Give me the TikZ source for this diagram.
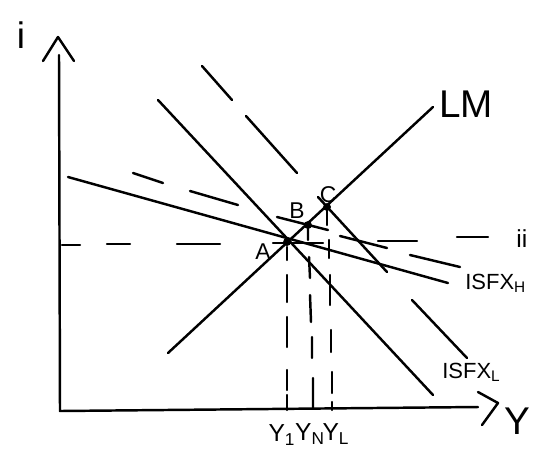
\documentclass[tikz,border=0pt]{standalone}
\usepackage{fontspec}
\setmainfont{Liberation Sans}
\begin{document}
\begin{tikzpicture}[x=0.02cm,y=-0.02cm,line cap=round,line join=round,
  ln/.style={line width=1.4pt},
  dsh/.style={line width=1.4pt},
  pt/.style={circle,fill,inner sep=0pt,minimum size=4.5pt},
  lbl/.style={inner sep=0pt,font=\fontsize{13}{15}\selectfont},
  curve/.style={inner sep=0pt,anchor=west,font=\fontsize{12.5}{14}\selectfont},
  ylab/.style={inner sep=0pt,font=\fontsize{14}{16}\selectfont}]
\useasboundingbox (0,0) rectangle (533,457);
% axes
\coordinate (O) at (60,411);
\coordinate (Ytop) at (59,55);
\coordinate (Xend) at (478,407);
\draw[ln] (Ytop) -- (O) -- (Xend);
\draw[ln] (43,61) -- (58,37) -- (74,61);
\draw[ln] (478,392) -- (498,403) -- (482,425);
\node[inner sep=0pt,font=\fontsize{21}{24}\selectfont] (ilab) at (21,35) {i};
\node[inner sep=0pt,font=\fontsize{22}{24}\selectfont] (Ylab) at (517,421) {Y};
% points
\coordinate (A) at (287,242);
\coordinate (B) at (308,225);
\coordinate (C) at (327,207);
% LM
\coordinate (LMa) at (168,353);
\coordinate (LMb) at (433,107);
\draw[ln] (LMa) -- (LMb);
\node[inner sep=0pt,font=\fontsize{22}{24}\selectfont] (LM) at (466,104) {LM};
% ISFX_H solid (flat)
\coordinate (Ha) at (68,177);
\coordinate (Hb) at (448,283);
\draw[ln] (Ha) -- (Hb);
\node[curve] (ISH) at (465,283) {ISFX\textsubscript{H}};
% ISFX_L solid (steep)
\coordinate (La) at (158,100);
\coordinate (Lb) at (433,395);
\draw[ln] (La) -- (Lb);
\node[curve] (ISL) at (442,372) {ISFX\textsubscript{L}};
% dashed flat line
\draw[dsh] (133,173) -- (163,183) (190,191) -- (238,205) (277,217) -- (328,230)
  (340,236) -- (387,248) (410,255) -- (460,267);
% dashed steep line
\draw[dsh] (202,66) -- (232,100) (246,116) -- (297,173) (318,197) -- (387,272)
  (412,300) -- (467,358);
% ii dashed horizontal
\draw[dsh] (62,245) -- (80,245) (107,244) -- (130,244) (177,244) -- (220,244)
  (273,243) -- (323,243) (378,241) -- (417,241) (457,237) -- (488,237);
\node[inner sep=0pt,anchor=west,font=\fontsize{14}{16}\selectfont] (ii) at (516,239) {ii};
% vertical dashed lines
\draw[dsh] (287,247) -- (287,260) (287,275) -- (287,302) (287,317) -- (287,347)
  (287,370) -- (287,390) (287,395) -- (287,410);
\draw[dsh] (308,226) -- (308,240) (309,257) -- (310,278) (310,295) -- (311,322)
  (312,337) -- (312,358) (313,378) -- (313,408);
\draw[dsh] (327,208) -- (327,225) (329,240) -- (329,258) (330,275) -- (330,305)
  (331,330) -- (331,352) (332,372) -- (332,393) (332,402) -- (332,410);
% dots
\node[pt] (pA) at (A) {};
\node[pt] (pB) at (B) {};
\node[pt] (pC) at (C) {};
\node[lbl] (lA) at (263,252) {A};
\node[lbl] (lB) at (297,211) {B};
\node[lbl] (lC) at (328,195) {C};
% Y labels
\node[ylab] (Y1) at (282,435) {Y\textsubscript{1}};
\node[ylab] (YN) at (310,434) {Y\textsubscript{N}};
\node[ylab] (YL) at (336,434) {Y\textsubscript{L}};
\end{tikzpicture}
\end{document}
